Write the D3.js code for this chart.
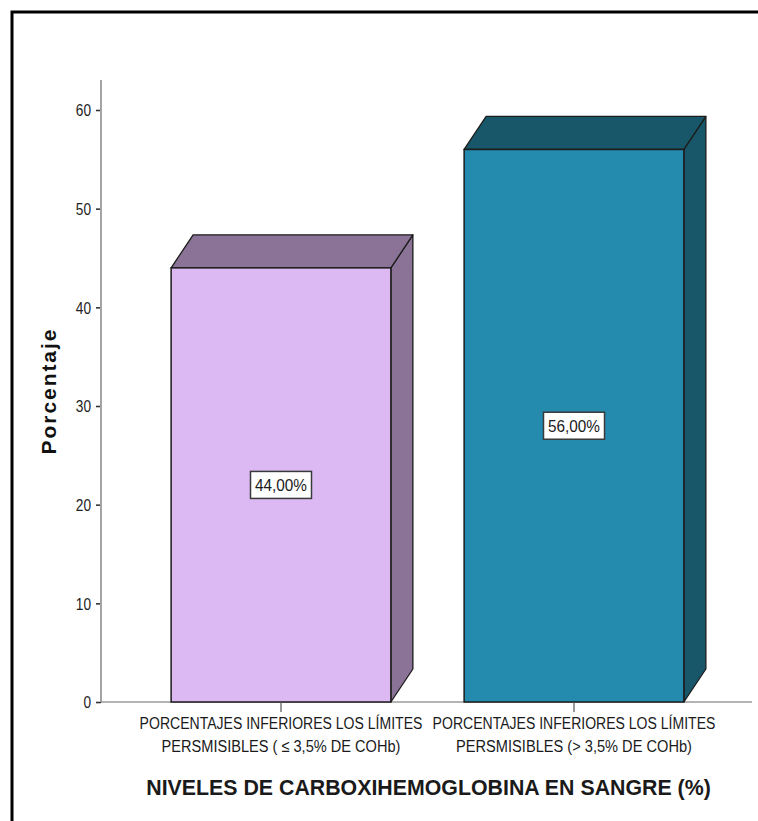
<!DOCTYPE html>
<html>
<head>
<meta charset="utf-8">
<script src="https://cdn.jsdelivr.net/npm/d3@7"></script>
<style>
  html, body { margin: 0; padding: 0; background: #fff; }
  svg { display: block; font-family: "Liberation Sans", Arial, sans-serif; }
</style>
</head>
<body>
<svg id="chart" width="758" height="821"></svg>
<script>
// Carboxyhemoglobin levels: share of samples per category
const categories = [
  ["PORCENTAJES INFERIORES LOS LÍMITES", "PERSMISIBLES ( ≤ 3,5% DE COHb)"],
  ["PORCENTAJES INFERIORES LOS LÍMITES", "PERSMISIBLES (> 3,5% DE COHb)"]
];
const percentages = [44.0, 56.0];
const valueLabels = ["44,00%", "56,00%"];
const yTicks = [0, 10, 20, 30, 40, 50, 60];
const frontColors = ["#dcb9f2", "#248aae"];
const shadeColors = ["#8a7396", "#175769"];
const yTitle = "Porcentaje";
const xTitle = "NIVELES DE CARBOXIHEMOGLOBINA EN SANGRE (%)";

const svg = d3.select("#chart");

// draw a horizontally condensed text centred on (cx, by), squeezed to a given width
function condensed(parent, str, cx, by, size, width, weight) {
  const t = parent.append("text")
    .attr("text-anchor", "middle").attr("font-size", size)
    .attr("font-weight", weight || "normal").attr("fill", "#1a1a1a")
    .text(str);
  const natural = t.node().getComputedTextLength();
  t.attr("transform", `translate(${cx},${by}) scale(${width / natural},1)`);
  return t;
}

// outer frame (runs off the right and bottom edges)
svg.append("rect")
  .attr("x", 12).attr("y", 12)
  .attr("width", 800).attr("height", 850)
  .attr("fill", "none").attr("stroke", "#000").attr("stroke-width", 3);

const y = d3.scaleLinear().domain([0, 60]).range([702, 110]);
const keys = categories.map((c, i) => "c" + i);
const x = d3.scaleBand().domain(keys).range([134.5, 720.5]).paddingInner(0.25).paddingOuter(0.125);

const depthX = 22, depthY = -33;
const outline = "#1c1c1c";

// y axis
const yAxis = d3.axisLeft(y).tickValues(yTicks).tickSize(5).tickPadding(5).tickFormat(d3.format("d"));
const gy = svg.append("g").attr("transform", "translate(101,0)").call(yAxis);
gy.select(".domain").remove();
gy.selectAll(".tick line").attr("stroke", "#333").attr("stroke-width", 1.6);
gy.selectAll(".tick text").attr("font-size", 16).attr("fill", "#222")
  .attr("dy", "0.36em")
  .attr("textLength", d => String(d).length * 7.6)
  .attr("lengthAdjust", "spacingAndGlyphs");
svg.append("line")
  .attr("x1", 101).attr("x2", 101).attr("y1", 80).attr("y2", y(0))
  .attr("stroke", "#a4a4a4").attr("stroke-width", 2);

// baseline
svg.append("line")
  .attr("x1", 101).attr("x2", 752).attr("y1", y(0)).attr("y2", y(0))
  .attr("stroke", "#6a6a6a").attr("stroke-width", 1.2);

// 3D bars
const bars = svg.append("g");
percentages.forEach((v, i) => {
  const x0 = x(keys[i]), x1 = x0 + x.bandwidth();
  const yt = y(v), yb = y(0);
  const g = bars.append("g");
  // side face
  g.append("path")
    .attr("d", `M${x1},${yt}L${x1 + depthX},${yt + depthY}L${x1 + depthX},${yb + depthY}L${x1},${yb}Z`)
    .attr("fill", shadeColors[i]).attr("stroke", outline).attr("stroke-width", 1.3).attr("stroke-linejoin", "round");
  // top face
  g.append("path")
    .attr("d", `M${x0},${yt}L${x0 + depthX},${yt + depthY}L${x1 + depthX},${yt + depthY}L${x1},${yt}Z`)
    .attr("fill", shadeColors[i]).attr("stroke", outline).attr("stroke-width", 1.3).attr("stroke-linejoin", "round");
  // front face
  g.append("rect")
    .attr("x", x0).attr("y", yt).attr("width", x1 - x0).attr("height", yb - yt)
    .attr("fill", frontColors[i]).attr("stroke", outline).attr("stroke-width", 1.5);

  // value label box at half height
  const cx = x0 + x.bandwidth() / 2, cy = y(v / 2);
  const boxW = 61, boxH = 27;
  g.append("rect")
    .attr("x", cx - boxW / 2).attr("y", cy - boxH / 2)
    .attr("width", boxW).attr("height", boxH)
    .attr("fill", "#fff").attr("stroke", "#3a3a3a").attr("stroke-width", 1.5);
  condensed(g, valueLabels[i], cx, cy + 6, 17, 52);
});

// category ticks and labels
const labels = svg.append("g");
keys.forEach((k, i) => {
  const cx = x(k) + x.bandwidth() / 2;
  svg.append("line")
    .attr("x1", cx).attr("x2", cx).attr("y1", y(0)).attr("y2", y(0) + 10)
    .attr("stroke", "#555").attr("stroke-width", 1.2);
  const widths = [283, i === 0 ? 239 : 236];
  categories[i].forEach((line, j) => {
    condensed(labels, line, cx, 729 + j * 23, 17, widths[j]);
  });
});

// axis titles
svg.append("text")
  .attr("transform", "translate(56,392) rotate(-90)")
  .attr("text-anchor", "middle").attr("font-size", 21).attr("font-weight", "bold").attr("fill", "#111")
  .attr("textLength", 125).attr("lengthAdjust", "spacing")
  .text(yTitle);

condensed(svg, xTitle, 428.5, 795, 23, 565, "bold");
</script>
</body>
</html>
